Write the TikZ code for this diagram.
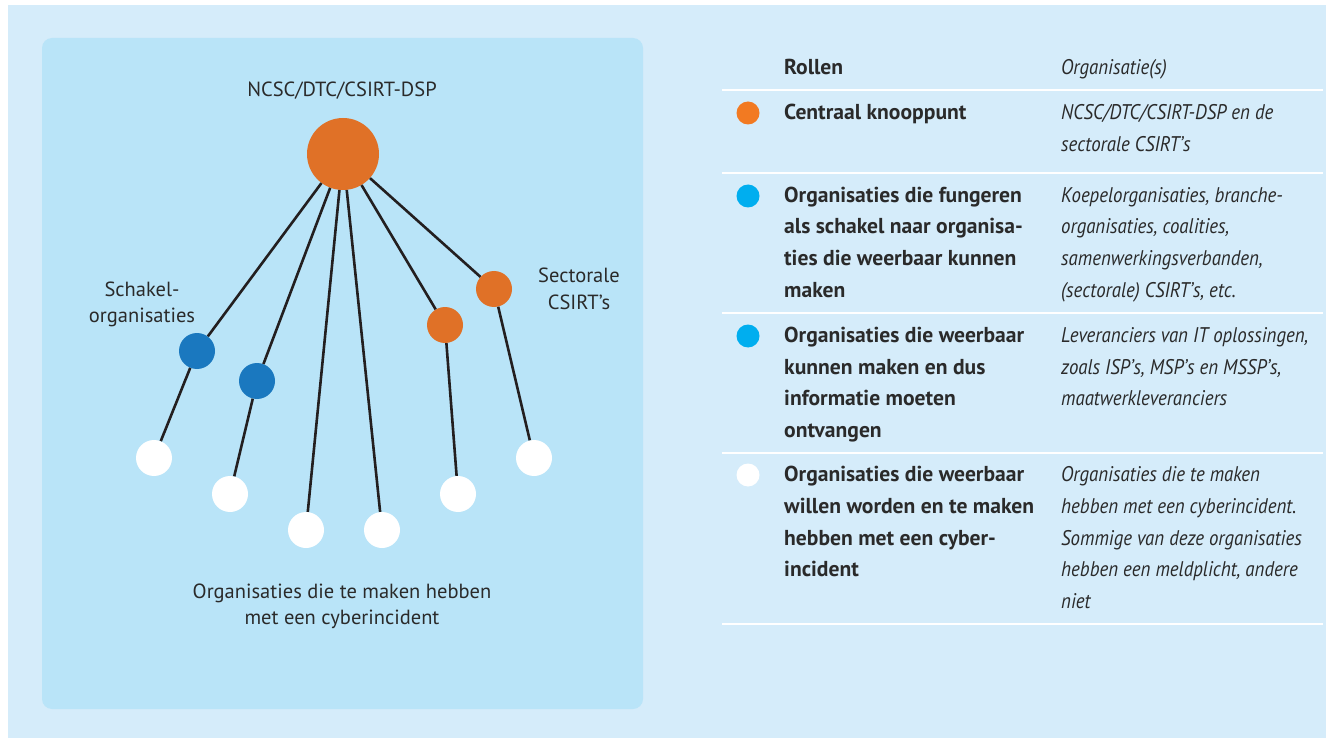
\documentclass[tikz,border=0pt]{standalone}
\usepackage{fontspec}
\setmainfont{PT Sans}
\newfontfamily\condfam{PT Sans}[FakeStretch=0.89]
\definecolor{outerbg}{HTML}{D5ECFA}
\definecolor{panelbg}{HTML}{B9E4F8}
\definecolor{nodeorange}{HTML}{E07127}
\definecolor{nodeblue}{HTML}{1A78BF}
\definecolor{legorange}{HTML}{F27A22}
\definecolor{legblue}{HTML}{00AEEF}
\definecolor{linec}{HTML}{231F20}
\definecolor{textc}{HTML}{2A2A2A}
\begin{document}
\begin{tikzpicture}[x=1pt,y=-1pt,
  conn/.style={draw=linec, line width=2.6pt},
  bigdot/.style={circle, fill=nodeorange, minimum size=72pt, inner sep=0pt},
  orangedot/.style={circle, fill=nodeorange, minimum size=36pt, inner sep=0pt},
  bluedot/.style={circle, fill=nodeblue, minimum size=36pt, inner sep=0pt},
  whitedot/.style={circle, fill=white, minimum size=36pt, inner sep=0pt},
  legdot/.style={circle, minimum size=23pt, inner sep=0pt},
  lbl/.style={font=\fontsize{20.5}{20.5}\selectfont, text=textc, inner sep=0pt, anchor=base},
  colb/.style={font=\fontsize{21.6}{21.6}\selectfont\bfseries, text=textc, inner sep=0pt, anchor=base west},
  coli/.style={font=\condfam\fontsize{21.2}{21.2}\selectfont\itshape, text=textc, inner sep=0pt, anchor=base west},
  rulel/.style={draw=white, line width=2pt}
]
\useasboundingbox (0,0) rectangle (1326,738);
\fill[white] (0,0) rectangle (1326,738);
\fill[outerbg] (8,5) rectangle (1326,738);
\fill[panelbg, rounded corners=10pt] (42,38) rectangle (643,709);

% diagram nodes
\node[bigdot] (c) at (343,154) {};
\node[bluedot] (b1) at (197,351) {};
\node[bluedot] (b2) at (257,381) {};
\node[orangedot] (o2) at (445,325) {};
\node[orangedot] (o1) at (494,289) {};
\node[whitedot] (w1) at (154,458) {};
\node[whitedot] (w2) at (230,494) {};
\node[whitedot] (w3) at (306,530) {};
\node[whitedot] (w4) at (382,530) {};
\node[whitedot] (w5) at (458,494) {};
\node[whitedot] (w6) at (534,458) {};

\draw[conn] (c) -- (b1) (b1) -- (w1);
\draw[conn] (c) -- (b2) (b2) -- (w2);
\draw[conn] (c) -- (w3);
\draw[conn] (c) -- (w4);
\draw[conn] (c) -- (o2) (o2) -- (w5);
\draw[conn] (c) -- (o1) (o1) -- (w6);

% diagram labels
\node[lbl] (tc) at (342,97) {NCSC/DTC/CSIRT-DSP};
\node[lbl] (ts1) at (142,297) {Schakel-};
\node[lbl] (ts2) at (142,323) {organisaties};
\node[lbl] (tr1) at (579,283) {Sectorale};
\node[lbl] (tr2) at (579,309) {CSIRT’s};
\node[lbl] (tb1) at (342,598) {Organisaties die te maken hebben};
\node[lbl] (tb2) at (342,624) {met een cyberincident};

% table rules
\draw[rulel] (722,90) -- (1323,90);
\draw[rulel] (722,173) -- (1323,173);
\draw[rulel] (722,313) -- (1323,313);
\draw[rulel] (722,453) -- (1323,453);
\draw[rulel] (722,624) -- (1323,624);

% header
\node[colb] (h1) at (784,75) {Rollen};
\node[coli] (h2) at (1061,75) {Organisatie(s)};

% row 1
\node[legdot, fill=legorange] (d1) at (748,113) {};
\node[colb] (r1a) at (784,120) {Centraal knooppunt};
\node[coli] (r1b) at (1061,120) {NCSC/DTC/CSIRT-DSP en de};
\node[coli] (r1c) at (1061,151.7) {sectorale CSIRT’s};

% row 2
\node[legdot, fill=legblue] (d2) at (748,196) {};
\node[colb] (r2a) at (784,202.3) {Organisaties die fungeren};
\node[colb] (r2b) at (784,234) {als schakel naar organisa-};
\node[colb] (r2c) at (784,265.7) {ties die weerbaar kunnen};
\node[colb] (r2d) at (784,297.3) {maken};
\node[coli] (r2e) at (1061,202.3) {Koepelorganisaties, branche-};
\node[coli] (r2f) at (1061,234) {organisaties, coalities,};
\node[coli] (r2g) at (1061,265.7) {samenwerkingsverbanden,};
\node[coli] (r2h) at (1061,297.3) {(sectorale) CSIRT’s, etc.};

% row 3
\node[legdot, fill=legblue] (d3) at (748,336) {};
\node[colb] (r3a) at (784,342.3) {Organisaties die weerbaar};
\node[colb] (r3b) at (784,374) {kunnen maken en dus};
\node[colb] (r3c) at (784,405.7) {informatie moeten};
\node[colb] (r3d) at (784,437.3) {ontvangen};
\node[coli] (r3e) at (1061,342.3) {Leveranciers van IT oplossingen,};
\node[coli] (r3f) at (1061,374) {zoals ISP’s, MSP’s en MSSP’s,};
\node[coli] (r3g) at (1061,405.7) {maatwerkleveranciers};

% row 4
\node[legdot, fill=white] (d4) at (748,475) {};
\node[colb] (r4a) at (784,481.7) {Organisaties die weerbaar};
\node[colb] (r4b) at (784,513.3) {willen worden en te maken};
\node[colb] (r4c) at (784,545) {hebben met een cyber-};
\node[colb] (r4d) at (784,576.7) {incident};
\node[coli] (r4e) at (1061,481.7) {Organisaties die te maken};
\node[coli] (r4f) at (1061,513.3) {hebben met een cyberincident.};
\node[coli] (r4g) at (1061,545) {Sommige van deze organisaties};
\node[coli] (r4h) at (1061,576.7) {hebben een meldplicht, andere};
\node[coli] (r4i) at (1061,608.3) {niet};
\end{tikzpicture}
\end{document}
